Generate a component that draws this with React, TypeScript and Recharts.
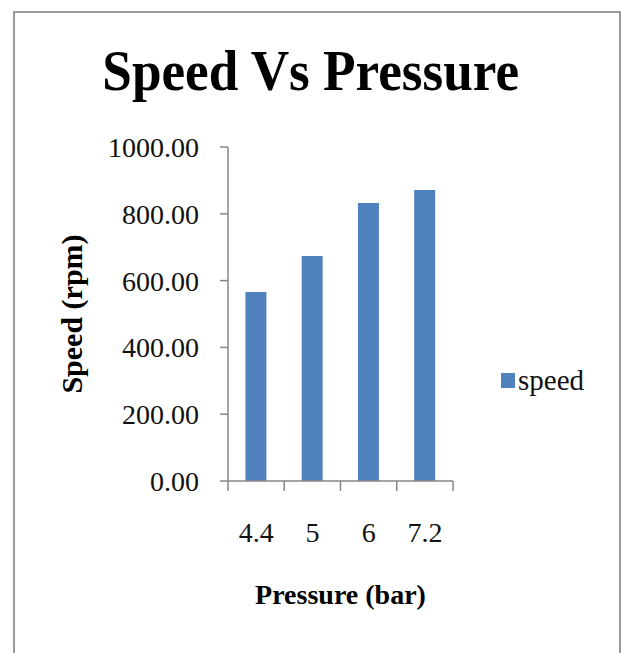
import React from 'react';
import { BarChart, Bar, XAxis, YAxis, Legend } from 'recharts';

// values
const pressures = ['4.4', '5', '6', '7.2'];
const speeds = [566, 674, 832, 871];
const speedTicks = [0, 200, 400, 600, 800, 1000];

const data = pressures.map((p, i) => ({ pressure: p, speed: speeds[i] }));

const AXIS_GRAY = '#868686';
const BAR_BLUE = '#4F81BD';
const SERIF = '"Liberation Serif", "Times New Roman", serif';

// Excel-style category axis: tick marks sit between categories, not under them
function PressureTick(props: any) {
  const { x, y, payload, index } = props;
  const half = payload && typeof payload.offset === 'number' && payload.offset > 0 ? payload.offset : 28.1;
  return (
    <g>
      <line x1={x - half} y1={y} x2={x - half} y2={y + 10} stroke={AXIS_GRAY} strokeWidth={1.5} />
      {index === pressures.length - 1 && (
        <line x1={x + half} y1={y} x2={x + half} y2={y + 10} stroke={AXIS_GRAY} strokeWidth={1.5} />
      )}
      <text x={x} y={y + 61} textAnchor="middle" fontFamily={SERIF} fontSize={28} fill="#111">
        {payload.value}
      </text>
    </g>
  );
}

function SpeedLegend() {
  return (
    <div style={{ display: 'flex', alignItems: 'center', fontFamily: SERIF, fontSize: 29, color: '#111' }}>
      <span style={{ width: 14, height: 15, background: BAR_BLUE, display: 'inline-block', marginRight: 3 }} />
      <span>speed</span>
    </div>
  );
}

export default function App() {
  return (
    <div
      style={{
        position: 'absolute',
        left: 0,
        top: 0,
        width: 621,
        height: 653,
        overflow: 'hidden',
        background: '#fff',
      }}
    >
      <div
        style={{
          position: 'absolute',
          left: 13,
          top: 11,
          width: 604,
          height: 660,
          border: '2px solid #9a9a9a',
        }}
      />
      <div
        style={{
          position: 'absolute',
          left: 0,
          top: 38,
          width: 621,
          textAlign: 'center',
          fontFamily: SERIF,
          fontWeight: 'bold',
          fontSize: 56,
          lineHeight: '64px',
          color: '#000',
          transform: 'scale(0.95, 1.02)',
          transformOrigin: '315px 0',
        }}
      >
        Speed Vs Pressure
      </div>
      <div style={{ position: 'absolute', left: 0, top: 0 }}>
        <BarChart
          width={621}
          height={653}
          data={data}
          margin={{ top: 147, right: 168, bottom: 42, left: 28 }}
          barCategoryGap="31%"
        >
          <XAxis
            dataKey="pressure"
            height={130}
            interval={0}
            tickSize={0}
            tickMargin={0}
            tickLine={false}
            stroke={AXIS_GRAY}
            strokeWidth={1.5}
            tick={<PressureTick />}
            label={{
              value: 'Pressure (bar)',
              position: 'insideBottom',
              offset: 7,
              style: { fontFamily: SERIF, fontWeight: 'bold', fontSize: 28, fill: '#000' },
            }}
          />
          <YAxis
            width={200}
            domain={[0, 1000]}
            ticks={speedTicks}
            interval={0}
            tickSize={8}
            tickMargin={21}
            stroke={AXIS_GRAY}
            strokeWidth={1.5}
            tickFormatter={(v: number) => v.toFixed(2)}
            tick={{ fontFamily: SERIF, fontSize: 28, fill: '#111' }}
            label={{
              value: 'Speed (rpm)',
              angle: -90,
              position: 'insideLeft',
              offset: 43,
              style: { fontFamily: SERIF, fontWeight: 'bold', fontSize: 30, fill: '#000', textAnchor: 'middle' },
            }}
          />
          <Legend
            layout="horizontal"
            verticalAlign="middle"
            align="center"
            content={<SpeedLegend />}
            wrapperStyle={{ left: 501, top: 364, width: 110, height: 36 }}
          />
          <Bar dataKey="speed" fill={BAR_BLUE} isAnimationActive={false} />
        </BarChart>
      </div>
    </div>
  );
}
